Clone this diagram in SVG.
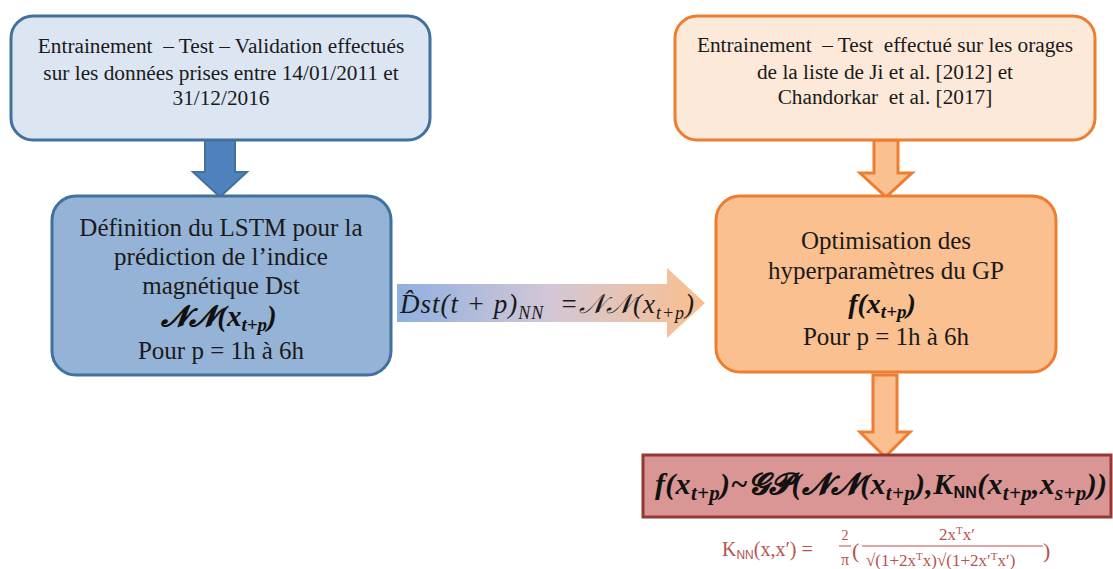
<svg xmlns="http://www.w3.org/2000/svg" width="1113" height="569" viewBox="0 0 1113 569">
<defs>
<linearGradient id="gArrow" x1="397" y1="0" x2="705" y2="0" gradientUnits="userSpaceOnUse">
<stop offset="0" stop-color="#8fb0e0"/>
<stop offset="0.5" stop-color="#d3c7d6"/>
<stop offset="1" stop-color="#fbbf8e"/>
</linearGradient>
</defs>
<style>
.t{font-family:Liberation Serif,DejaVu Serif,serif;fill:#1a1a1a;text-anchor:middle;white-space:pre}
.m{font-family:Liberation Serif,DejaVu Serif,serif;font-style:italic;fill:#1a1a1a;white-space:pre}
.mb{font-family:Liberation Serif,DejaVu Serif,serif;font-style:italic;font-weight:bold;fill:#111;white-space:pre}
.blueL{fill:#dce6f2;stroke:#41719c;stroke-width:3}
.blueD{fill:#95b3d7;stroke:#41719c;stroke-width:3}
.orgL{fill:#fde9d9;stroke:#ed7d31;stroke-width:3}
.orgD{fill:#fac090;stroke:#ed7d31;stroke-width:3}
.arB{fill:#4f81bd;stroke:#41719c;stroke-width:2}
.arO{fill:#fac090;stroke:#ed7d31;stroke-width:3}
.f{font-family:Liberation Serif,DejaVu Serif,serif;fill:#b5534f;white-space:pre}
.ss{font-family:Liberation Sans,Arial,sans-serif;font-style:normal}
</style>
<rect width="1113" height="569" fill="#ffffff"/>

<g id="connectors">
<polygon class="arB" points="205,140 235,140 235,172 247,172 220,197 193,172 205,172"/>
<polygon class="arO" points="874,140 898,140 898,173 912,173 886,197 860,173 874,173"/>
<polygon class="arO" points="873,375 897,375 897,432 910,432 885,457 860,432 873,432"/>
<polygon points="397,284 667,284 667,268 705,303 667,338 667,322 397,322" fill="url(#gArrow)"/>
<text class="m" x="400" y="313" font-size="27" letter-spacing="1">D̂st(t + p)<tspan font-size="18" dy="6">NN</tspan><tspan dy="-6">  =𝒩𝒩(x</tspan><tspan font-size="18" dy="6">t+p</tspan><tspan dy="-6">)</tspan></text>
</g>

<g id="node-train-lstm">
<rect class="blueL" x="11" y="16" width="419" height="124" rx="22"/>
<text class="t" font-size="21.3"><tspan x="221" y="53">Entrainement  – Test – Validation effectués</tspan><tspan x="221" y="80">sur les données prises entre 14/01/2011 et</tspan><tspan x="221" y="105">31/12/2016</tspan></text>
</g>

<g id="node-lstm">
<rect class="blueD" x="52" y="196" width="339" height="179" rx="24"/>
<text class="t" font-size="25"><tspan x="221" y="236">Définition du LSTM pour la</tspan><tspan x="221" y="265">prédiction de l’indice</tspan><tspan x="221" y="294">magnétique Dst</tspan><tspan x="221" y="359">Pour p = 1h à 6h</tspan></text>
<text class="mb" x="219" y="326" font-size="29" text-anchor="middle">𝓝𝓝(x<tspan font-size="19" dy="5">t+p</tspan><tspan dy="-5">)</tspan></text>
</g>

<g id="node-train-gp">
<rect class="orgL" x="675" y="16" width="420" height="124" rx="22"/>
<text class="t" font-size="21.3"><tspan x="885" y="52">Entrainement  – Test  effectué sur les orages</tspan><tspan x="885" y="79">de la liste de Ji et al. [2012] et</tspan><tspan x="885" y="104">Chandorkar  et al. [2017]</tspan></text>
</g>

<g id="node-gp">
<rect class="orgD" x="716" y="196" width="340" height="176" rx="24"/>
<text class="t" font-size="25"><tspan x="886" y="249">Optimisation des</tspan><tspan x="886" y="279">hyperparamètres du GP</tspan><tspan x="886" y="345">Pour p = 1h à 6h</tspan></text>
<text class="mb" x="882" y="313" font-size="28" text-anchor="middle">f(x<tspan font-size="19" dy="5">t+p</tspan><tspan dy="-5">)</tspan></text>
</g>

<g id="node-result">
<rect x="643" y="455" width="468" height="62" fill="#d99694" stroke="#953735" stroke-width="3"/>
<text class="mb" x="655" y="494" font-size="30" letter-spacing="0.3">f(x<tspan font-size="21" dy="6">t+p</tspan><tspan dy="-6">)~𝓖𝓟(𝓝𝓝(x</tspan><tspan font-size="21" dy="6">t+p</tspan><tspan dy="-6">),K</tspan><tspan class="ss" font-size="16" dy="4">NN</tspan><tspan dy="-4">(x</tspan><tspan font-size="21" dy="6">t+p</tspan><tspan dy="-6">,x</tspan><tspan font-size="21" dy="6">s+p</tspan><tspan dy="-6">))</tspan></text>
</g>

<g id="formula">
<text class="f" x="722" y="556" font-size="20">K<tspan class="ss" font-size="12" dy="3">NN</tspan><tspan dy="-3">(x,x′) = </tspan></text>
<text class="f" x="845" y="540" font-size="14" text-anchor="middle">2</text>
<line x1="839" y1="546" x2="851" y2="546" stroke="#b5534f" stroke-width="1"/>
<text class="f" x="845" y="565" font-size="16" text-anchor="middle">π</text>
<text class="f" x="852" y="558" font-size="22">(</text>
<text class="f" x="957" y="540" font-size="17" text-anchor="middle">2x<tspan font-size="11" dy="-6">T</tspan><tspan dy="6">x′</tspan></text>
<line x1="862" y1="546" x2="1043" y2="546" stroke="#b5534f" stroke-width="1"/>
<text class="f" x="866" y="566" font-size="17">√(1+2x<tspan font-size="11" dy="-6">T</tspan><tspan dy="6">x)√(1+2x′</tspan><tspan font-size="11" dy="-6">T</tspan><tspan dy="6">x′)</tspan></text>
<text class="f" x="1043" y="558" font-size="22">)</text>
</g>
</svg>
